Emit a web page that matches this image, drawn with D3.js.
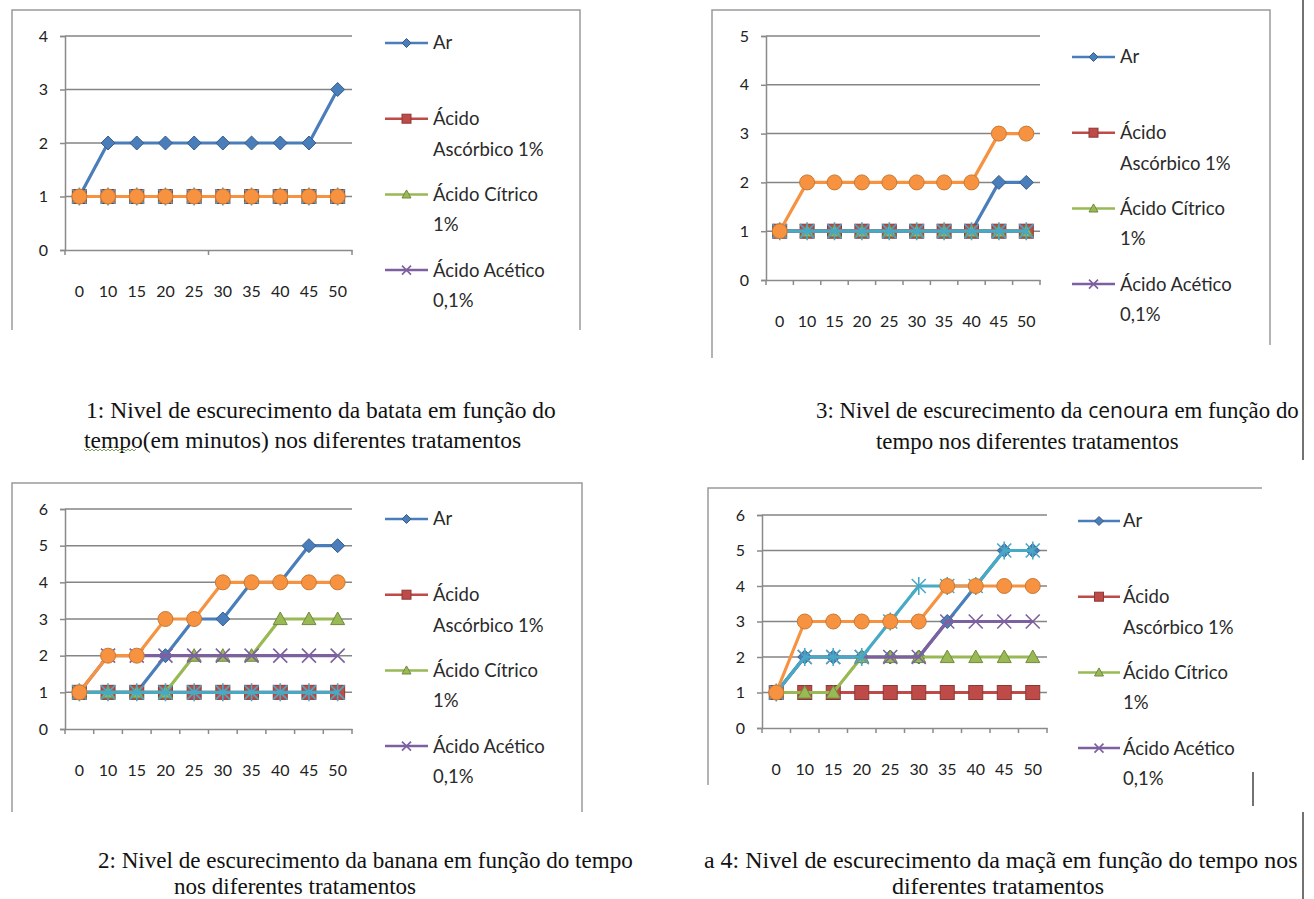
<!DOCTYPE html>
<html>
<head>
<meta charset="utf-8">
<script src="https://cdn.jsdelivr.net/npm/d3@7"></script>
<style>
  body { margin: 0; background: #fff; }
  text { font-family: Lato, "Open Sans", sans-serif; }
</style>
</head>
<body>
<script>
// tempo (minutos) e tratamentos
var tempos = ["0", "10", "15", "20", "25", "30", "35", "40", "45", "50"];
var tratamentos = ["Ar", "Ácido Ascórbico 1%", "Ácido Cítrico 1%", "Ácido Acético 0,1%", "Série5", "Série6"];
var legendaLinhas = [["Ar"], ["Ácido", "Ascórbico 1%"], ["Ácido Cítrico", "1%"], ["Ácido Acético", "0,1%"]];

// nivel de escurecimento, uma linha por tratamento (ordem acima)
var batata = [
  [1, 2, 2, 2, 2, 2, 2, 2, 2, 3],
  [1, 1, 1, 1, 1, 1, 1, 1, 1, 1],
  [1, 1, 1, 1, 1, 1, 1, 1, 1, 1],
  [1, 1, 1, 1, 1, 1, 1, 1, 1, 1],
  [1, 1, 1, 1, 1, 1, 1, 1, 1, 1],
  [1, 1, 1, 1, 1, 1, 1, 1, 1, 1]
];
var cenoura = [
  [1, 1, 1, 1, 1, 1, 1, 1, 2, 2],
  [1, 1, 1, 1, 1, 1, 1, 1, 1, 1],
  [1, 1, 1, 1, 1, 1, 1, 1, 1, 1],
  [1, 1, 1, 1, 1, 1, 1, 1, 1, 1],
  [1, 1, 1, 1, 1, 1, 1, 1, 1, 1],
  [1, 2, 2, 2, 2, 2, 2, 2, 3, 3]
];
var banana = [
  [1, 1, 1, 2, 3, 3, 4, 4, 5, 5],
  [1, 1, 1, 1, 1, 1, 1, 1, 1, 1],
  [1, 1, 1, 1, 2, 2, 2, 3, 3, 3],
  [1, 2, 2, 2, 2, 2, 2, 2, 2, 2],
  [1, 1, 1, 1, 1, 1, 1, 1, 1, 1],
  [1, 2, 2, 3, 3, 4, 4, 4, 4, 4]
];
var maca = [
  [1, 2, 2, 2, 2, 2, 3, 4, 5, 5],
  [1, 1, 1, 1, 1, 1, 1, 1, 1, 1],
  [1, 1, 1, 2, 2, 2, 2, 2, 2, 2],
  [1, 2, 2, 2, 2, 2, 3, 3, 3, 3],
  [1, 2, 2, 2, 3, 4, 4, 4, 5, 5],
  [1, 3, 3, 3, 3, 3, 4, 4, 4, 4]
];

// estilo das series (cores do Excel)
var cores   = ["#4A7EBB", "#BE4B48", "#98B954", "#7D60A0", "#46AAC5", "#F69240"];
var bordas  = ["#385D8A", "#8C3836", "#71893F", "#5C4776", "#357D91", "#C77A35"];
var marcas  = ["diamond", "square", "triangle", "x", "star", "circle"];

var paineis = [
  { dados: batata, yMax: 4, left: 65, right: 352, top: 36, bottom: 250, tickEvery: 5,
    frame: "M12,330V10H580V330", leg: { x1: 385, x2: 428, tx: 433, y0: 43 },
    caption: { w: 470, linhas: [
      { t: "1: Nivel de escurecimento da batata em função do", x: 86, y: 410 },
      { t: "tempo(em minutos) nos diferentes tratamentos", x: 84, y: 440 }
    ] }, squiggle: [84, 449, 134] },
  { dados: cenoura, yMax: 5, left: 766, right: 1040, top: 36, bottom: 280, tickEvery: 1,
    frame: "M712,358V10H1270V345", leg: { x1: 1072, x2: 1115, tx: 1120, y0: 57 },
    caption: { w: 483, linhas: [
      { t: "3: Nivel de escurecimento da ", sans: "cenoura", t2: " em função do", x: 816, y: 410 },
      { t: "tempo nos diferentes tratamentos", x: 876, y: 441 }
    ] } },
  { dados: banana, yMax: 6, left: 65, right: 352, top: 509, bottom: 729, tickEvery: 1,
    frame: "M12,812V483H582V812", leg: { x1: 385, x2: 428, tx: 433, y0: 519 },
    caption: { w: 535, linhas: [
      { t: "2: Nivel de escurecimento da banana em função do tempo", x: 98, y: 860 },
      { t: "nos diferentes tratamentos", x: 174, y: 886 }
    ] } },
  { dados: maca, yMax: 6, left: 762, right: 1047, top: 515, bottom: 728, tickEvery: 1,
    frame: "M708,785V488H1262", leg: { x1: 1078, x2: 1120, tx: 1123, y0: 521 },
    caption: { w: 594, linhas: [
      { t: "a 4: Nivel de escurecimento da maçã em função do tempo nos", x: 704, y: 860 },
      { t: "diferentes tratamentos", x: 892, y: 886 }
    ] } }
];

var svg = d3.select("body").append("svg")
    .attr("width", 1314)
    .attr("height", 899);

// linhas da pagina
svg.append("path").attr("d", "M1303,0V460M1303,812V899M1253,772V806")
    .attr("stroke", "#444").attr("stroke-width", 1.5).attr("fill", "none");

function marcador(sel, tipo, s, cor, borda) {
  if (tipo == "diamond") {
    sel.append("path").attr("d", "M0," + (-s) + "L" + s + ",0L0," + s + "L" + (-s) + ",0Z")
      .attr("fill", cor).attr("stroke", borda).attr("stroke-width", 1);
  } else if (tipo == "square") {
    sel.append("rect").attr("x", -s).attr("y", -s).attr("width", 2 * s).attr("height", 2 * s)
      .attr("fill", cor).attr("stroke", borda).attr("stroke-width", 1);
  } else if (tipo == "triangle") {
    sel.append("path").attr("d", "M0," + (-s) + "L" + s + "," + (s * 0.8) + "L" + (-s) + "," + (s * 0.8) + "Z")
      .attr("fill", cor).attr("stroke", borda).attr("stroke-width", 1);
  } else if (tipo == "x" || tipo == "star") {
    var d = "M" + (-s) + "," + (-s) + "L" + s + "," + s + "M" + s + "," + (-s) + "L" + (-s) + "," + s;
    if (tipo == "star") d += "M0," + (-s - 2) + "V" + (s + 2);
    sel.append("path").attr("d", d).attr("stroke", cor).attr("stroke-width", 1.6).attr("fill", "none");
  } else {
    sel.append("circle").attr("r", s + 0.5)
      .attr("fill", cor).attr("stroke", borda).attr("stroke-width", 1);
  }
}

paineis.forEach(function(p) {
  var g = svg.append("g");

  g.append("path").attr("d", p.frame)
    .attr("fill", "none").attr("stroke", "#9a9a9a").attr("stroke-width", 1.5);

  var x = d3.scaleBand().domain(tempos).range([p.left, p.right]);
  var y = d3.scaleLinear().domain([0, p.yMax]).range([p.bottom, p.top]);
  var meio = x.bandwidth() / 2;

  // grade
  g.selectAll(".grid")
    .data(d3.range(1, p.yMax + 1))
    .enter().append("line")
    .attr("x1", p.left).attr("x2", p.right)
    .attr("y1", function(d) { return y(d); })
    .attr("y2", function(d) { return y(d); })
    .attr("stroke", "#858585").attr("stroke-width", 1.5);

  // eixo y
  var ay = g.append("g").attr("transform", "translate(" + p.left + ",0)")
    .call(d3.axisLeft(y).ticks(p.yMax).tickSize(5).tickPadding(12));
  ay.selectAll("path, line").attr("stroke", "#8a8a8a").attr("stroke-width", 1.5);
  ay.selectAll("text").attr("font-size", 16).attr("fill", "#222")
    .style("font-family", "Lato, sans-serif");

  // eixo x
  var ax = g.append("g").attr("transform", "translate(0," + p.bottom + ")")
    .call(d3.axisBottom(x).tickSize(0).tickSizeOuter(0));
  ax.select(".domain").attr("stroke", "#8a8a8a").attr("stroke-width", 1.5);
  ax.selectAll("text").attr("y", 41).attr("dy", "0.35em").attr("font-size", 16).attr("fill", "#222")
    .style("font-family", "Lato, sans-serif");
  g.selectAll(".xt")
    .data(d3.range(0, tempos.length + 1, p.tickEvery))
    .enter().append("line")
    .attr("x1", function(i) { return p.left + i * x.step(); })
    .attr("x2", function(i) { return p.left + i * x.step(); })
    .attr("y1", p.bottom).attr("y2", p.bottom + 5)
    .attr("stroke", "#8a8a8a").attr("stroke-width", 1.5);

  // series
  var linha = d3.line()
    .x(function(d, i) { return x(tempos[i]) + meio; })
    .y(function(d) { return y(d); });

  p.dados.forEach(function(serie, k) {
    g.append("path").attr("d", linha(serie))
      .attr("fill", "none").attr("stroke", cores[k]).attr("stroke-width", 3.2)
      .attr("stroke-linejoin", "round");
    g.selectAll(".m" + k)
      .data(serie)
      .enter().append("g")
      .attr("transform", function(d, i) { return "translate(" + (x(tempos[i]) + meio) + "," + y(d) + ")"; })
      .each(function() { marcador(d3.select(this), marcas[k], 7, cores[k], bordas[k]); });
  });

  // legenda (4 primeiros tratamentos)
  legendaLinhas.forEach(function(linhas, k) {
    var ly = p.leg.y0 + k * 75.7;
    g.append("line").attr("x1", p.leg.x1).attr("x2", p.leg.x2).attr("y1", ly).attr("y2", ly)
      .attr("stroke", cores[k]).attr("stroke-width", 2.5);
    var mg = g.append("g").attr("transform", "translate(" + ((p.leg.x1 + p.leg.x2) / 2) + "," + ly + ")");
    marcador(mg, marcas[k], 4.5, cores[k], bordas[k]);
    linhas.forEach(function(t, j) {
      g.append("text").attr("x", p.leg.tx).attr("y", ly + j * 30.5)
        .attr("dy", "0.35em").attr("font-size", 18.5).attr("fill", "#2a2a2a").text(t);
    });
  });

  // legenda da figura: tamanho da fonte ajustado pela largura da 1a linha
  var textos = p.caption.linhas.map(function(c) {
    var t = g.append("text").attr("x", c.x).attr("y", c.y).attr("dy", "0.35em")
      .attr("font-size", 18).attr("fill", "#111")
      .style("font-family", "'Liberation Serif', 'DejaVu Serif', serif");
    if (c.sans) {
      t.append("tspan").text(c.t);
      t.append("tspan").style("font-family", "'Open Sans', sans-serif").attr("font-size", "0.92em").text(c.sans);
      t.append("tspan").text(c.t2);
    } else {
      t.text(c.t);
    }
    return t;
  });
  var fs = 18 * p.caption.w / textos[0].node().getComputedTextLength();
  textos.forEach(function(t) { t.attr("font-size", fs); });

  if (p.squiggle) {
    var sq = p.squiggle, d = "M" + sq[0] + "," + sq[1];
    for (var xx = sq[0]; xx < sq[2]; xx += 4) {
      d += "L" + (xx + 2) + "," + (sq[1] + 2) + "L" + (xx + 4) + "," + sq[1];
    }
    g.append("path").attr("d", d).attr("fill", "none").attr("stroke", "#7fa35a").attr("stroke-width", 1);
  }
});
</script>
</body>
</html>
